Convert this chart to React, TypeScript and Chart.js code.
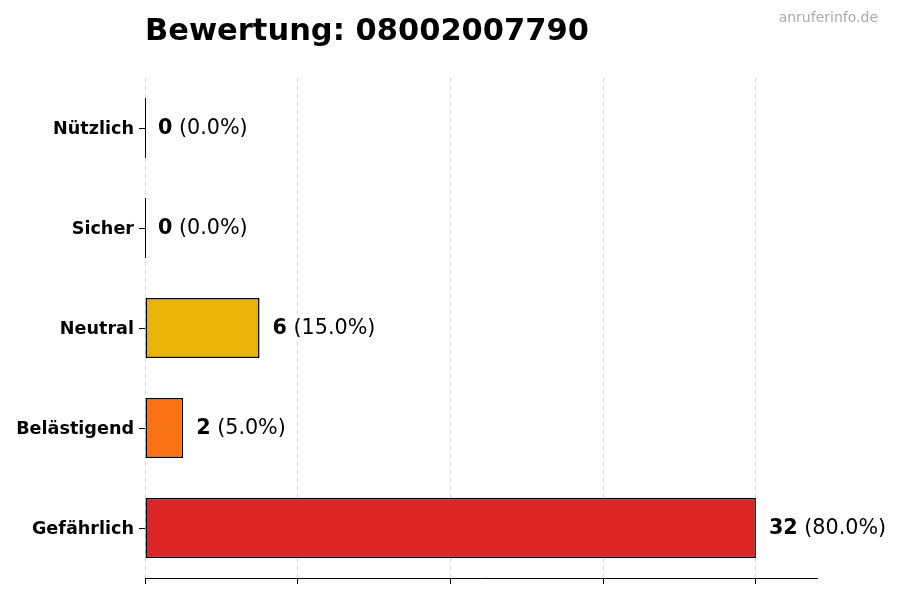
import React, { useEffect, useRef } from 'react';
import { Chart, registerables, Plugin } from 'chart.js';

Chart.register(...registerables);

const title = 'Bewertung: 08002007790';
const watermark = 'anruferinfo.de';
const categories = ['Nützlich', 'Sicher', 'Neutral', 'Belästigend', 'Gefährlich'];
const counts = [0, 0, 6, 2, 32];
const barColors = ['#3b82f6', '#22c55e', '#eab308', '#f97316', '#dc2626'];
const xTickStep = 8;
const xMax = 35.2;

const FONT = '"DejaVu Sans", sans-serif';

const overlayPlugin: Plugin<'bar'> = {
  id: 'overlay',
  afterDraw(chart) {
    const { ctx, chartArea } = chart;
    const total = counts.reduce((a, b) => a + b, 0);
    ctx.save();

    // title and source
    ctx.fillStyle = '#000';
    ctx.font = `bold 30.5px ${FONT}`;
    ctx.textAlign = 'left';
    ctx.textBaseline = 'alphabetic';
    ctx.fillText(title, chartArea.left, 40);
    ctx.fillStyle = '#aaaaaa';
    ctx.font = `14px ${FONT}`;
    ctx.textAlign = 'right';
    ctx.fillText(watermark, 878, 22);

    // value labels
    const meta = chart.getDatasetMeta(0);
    meta.data.forEach((bar: any, i: number) => {
      const v = counts[i];
      const { x, y, height } = bar.getProps(['x', 'y', 'height'], true);
      if (v === 0) {
        ctx.strokeStyle = '#000';
        ctx.lineWidth = 1;
        ctx.beginPath();
        ctx.moveTo(Math.round(x) + 0.5, y - height / 2);
        ctx.lineTo(Math.round(x) + 0.5, y + height / 2);
        ctx.stroke();
      }
      const pct = total ? ((v / total) * 100).toFixed(1) : '0.0';
      const bold = String(v);
      const rest = ` (${pct}%)`;
      ctx.fillStyle = '#000';
      ctx.textAlign = 'left';
      ctx.textBaseline = 'middle';
      ctx.font = `bold 20.7px ${FONT}`;
      const tx = x + 13;
      ctx.fillText(bold, tx, y + 1);
      const w = ctx.measureText(bold).width;
      ctx.font = `20.7px ${FONT}`;
      ctx.fillText(rest, tx + w, y + 1);
    });
    ctx.restore();
  },
};

const App: React.FC = () => {
  const canvasRef = useRef<HTMLCanvasElement>(null);

  useEffect(() => {
    if (!canvasRef.current) return;
    const chart = new Chart(canvasRef.current, {
      type: 'bar',
      data: {
        labels: categories,
        datasets: [
          {
            data: counts,
            backgroundColor: barColors,
            borderColor: '#000',
            borderWidth: 1.5,
            borderSkipped: false,
            barPercentage: 0.6,
            categoryPercentage: 1,
          },
        ],
      },
      options: {
        indexAxis: 'y',
        animation: false,
        responsive: true,
        maintainAspectRatio: false,
        layout: { padding: { top: 78, right: 83, bottom: 0, left: 0 } },
        plugins: {
          legend: { display: false },
          tooltip: { enabled: false },
        },
        scales: {
          x: {
            min: 0,
            max: xMax,
            z: 1,
            ticks: { display: false, stepSize: xTickStep, includeBounds: false },
            grid: {
              color: 'rgba(150,150,150,0.4)',
              tickColor: '#000',
              tickLength: 6,
              lineWidth: 1,
            },
            border: { display: true, color: '#000', width: 1, dash: [4, 4] },
            afterFit: (scale: any) => {
              scale.height = 22;
            },
          },
          y: {
            ticks: {
              color: '#000',
              padding: 5,
              labelOffset: 1.5,
              font: { family: FONT, size: 17.6, weight: 'bold' },
            },
            grid: {
              drawOnChartArea: false,
              offset: false,
              tickColor: '#000',
              tickLength: 6,
            },
            border: { display: false },
            afterFit: (scale: any) => {
              scale.width = 145;
            },
          },
        },
      },
      plugins: [overlayPlugin],
    });
    return () => chart.destroy();
  }, []);

  return (
    <div style={{ position: 'absolute', left: 0, top: 0, width: 900, height: 600, background: '#fff' }}>
      <canvas ref={canvasRef} />
    </div>
  );
};

export default App;
